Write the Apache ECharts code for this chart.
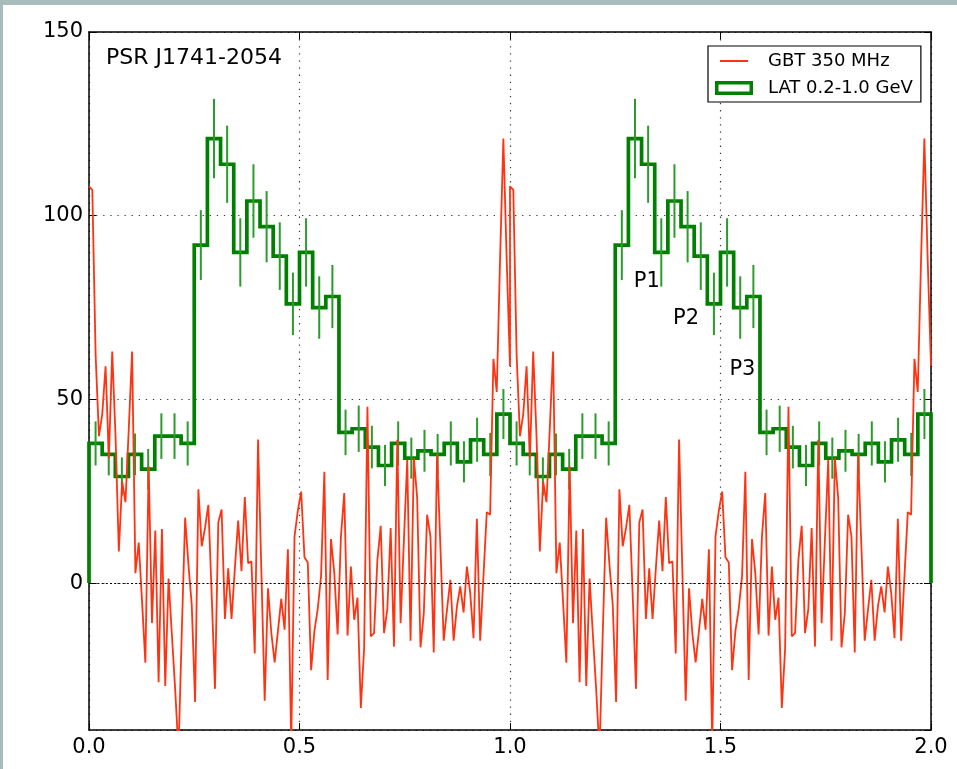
<!DOCTYPE html>
<html>
<head>
<meta charset="utf-8">
<script src="https://cdn.jsdelivr.net/npm/echarts@6/dist/echarts.min.js"></script>
<style>
html,body{margin:0;padding:0;background:#a9bcbc;overflow:hidden;}
#panel{position:absolute;left:3px;top:5px;right:0;bottom:0;background:#ffffff;}
#chart{position:absolute;left:0;top:0;width:957px;height:769px;}
</style>
</head>
<body>
<div id="panel"></div>
<div id="chart"></div>
<script>
// GBT 350 MHz radio profile, 128 samples over one rotation (phase i/127)
const gbtProfile = [
  108, 107, 62, 40, 46, 59, 34, 63, 40, 8.6,
  27.6, 22, 42, 63, 2.7, 11, -5, -21.7, 31.7, -10.9,
  14.3, -27, 14.7, -28, 1.2, -14, -29, -46, -13, 17.8,
  5, -6, -32.4, 25.5, 10, 15, 21.3, -3, -28.8, 16.5,
  20, -9.8, 4, -9.8, 4, 17, 3.2, 23.4, 5.4, 5.9,
  -19.2, 39.1, 3, -32, -1.4, -13.6, -21.6, -13, -4.3, -12.7,
  9.2, -44, 12.7, 19.7, 24.9, 7, 5.6, -23.7, -13, -7,
  1.8, 30.3, -26.4, 12, 2.7, -14, 12.7, 24.5, -14.3, 4.5,
  -10, -4, -34, -17.7, 48, -14.5, -13.6, 6.3, 15.6, -13.6,
  -7, 15, -17.3, 39, -10.9, 11.8, 33.5, -15.7, 34, 23.1,
  -17.5, -8.2, 18.6, 12.7, -18.9, 35, 10, -15.7, -7.2, 0.9,
  -15.7, -6.3, -0.9, -8, 4.5, -2.7, -15, 17.5, -15.7, 2,
  19.3, 18.6, 61, 52, 88, 121, 88, 59
];
// LAT 0.2-1.0 GeV histogram, 32 phase bins per rotation
const latCounts = [38, 35, 29, 35, 31, 40, 40, 38, 92, 121, 114, 90, 104, 97, 89, 76,
                   90, 75, 78, 41, 42, 37, 32, 38, 34, 36, 35, 38, 33, 39, 35, 46];
const latErrors = [6, 5.7, 5.2, 5.7, 5.5, 6.2, 6.2, 6, 9.5, 10.8, 10.5, 9.3, 10, 9.7, 9.2, 8.5,
                   9.3, 8.5, 8.6, 6.2, 6.3, 5.8, 5.6, 6, 5.6, 5.7, 5.6, 6, 5.6, 6, 5.9, 6.8];
const rotations = 2;
const xTickValues = [0, 0.5, 1.0, 1.5, 2.0];
const yTickValues = [0, 50, 100, 150];
const peakNames = ['P1', 'P2', 'P3'];
const peakPhase = [1.325, 1.418, 1.552];
const peakLevel = [82, 72, 58.2];
const seriesNames = ['GBT 350 MHz', 'LAT 0.2-1.0 GeV'];
const chartTitle = 'PSR J1741-2054';

const FONT = 'DejaVu Sans';
const RED = '#ff3311';
const GREEN = '#008000';
const ERR_GREEN = '#2b9b2b';

// build series data
const nRadio = gbtProfile.length;
const radioData = [];
for (let p = 0; p < rotations; p++) {
  for (let i = 0; i < nRadio; i++) {
    radioData.push([p + i / (nRadio - 1), gbtProfile[i]]);
  }
}
const nBins = latCounts.length;
const histData = [[0, 0]];
const errData = [];
for (let p = 0; p < rotations; p++) {
  for (let k = 0; k < nBins; k++) {
    histData.push([p + k / nBins, latCounts[k]]);
    histData.push([p + (k + 1) / nBins, latCounts[k]]);
    errData.push([p + (k + 0.5) / nBins, latCounts[k] - latErrors[k], latCounts[k] + latErrors[k]]);
  }
}
histData.push([rotations, 0]);

const gridSplit = { show: true, lineStyle: { color: '#3a3a3a', type: [1.3, 5.8], width: 1.2 } };
const axisLineStyle = { show: true, onZero: false, lineStyle: { color: '#000', width: 1.5 } };
const tickStyle = { show: true, inside: true, length: 7, lineStyle: { color: '#000', width: 1 } };

const redIcon = 'path://M0,0L0,0.01Z M48,14L48,13.99Z M5,6H33V8H5Z';
const greenIcon = 'path://M0,0L0,0.01Z M48,14L48,13.99Z M0,0H38V14H0Z M3.5,3.5V10.5H34.5V3.5Z';

const chart = echarts.init(document.getElementById('chart'), null, { renderer: 'canvas' });
chart.setOption({
  animation: false,
  backgroundColor: 'transparent',
  textStyle: { fontFamily: FONT },
  title: {
    text: chartTitle, left: 106, top: 47, padding: 0,
    textStyle: { fontSize: 22, fontWeight: 'normal', fontFamily: FONT, color: '#000' }
  },
  legend: {
    left: 708, top: 46, orient: 'vertical',
    padding: [6, 8, 5, 7], itemGap: 9,
    itemWidth: 48, itemHeight: 14,
    backgroundColor: '#fff', borderColor: '#000', borderWidth: 1.2, borderRadius: 0,
    selectedMode: false,
    textStyle: { fontSize: 18, color: '#000', fontFamily: FONT },
    data: [
      { name: seriesNames[0], icon: redIcon, itemStyle: { color: RED, borderWidth: 0, borderColor: 'transparent' } },
      { name: seriesNames[1], icon: greenIcon, itemStyle: { color: GREEN, borderWidth: 0, borderColor: 'transparent' } }
    ]
  },
  grid: { left: 89, right: 26, top: 32, bottom: 39, containLabel: false },
  xAxis: [
    {
      type: 'value', position: 'bottom', min: 0, max: 2, interval: 0.5,
      axisLine: axisLineStyle, axisTick: tickStyle, splitLine: gridSplit,
      axisLabel: { color: '#000', fontSize: 21, fontFamily: FONT, margin: 7,
                   formatter: v => (xTickValues.indexOf(v) >= 0 ? v.toFixed(1) : '') }
    },
    {
      type: 'value', position: 'top', min: 0, max: 2, interval: 0.5,
      axisLine: axisLineStyle, axisTick: tickStyle, splitLine: { show: false },
      axisLabel: { show: false }
    }
  ],
  yAxis: [
    {
      type: 'value', position: 'left', min: -40, max: 150, splitNumber: 4,
      axisLine: axisLineStyle, axisTick: tickStyle, splitLine: gridSplit,
      axisLabel: { color: '#000', fontSize: 21, fontFamily: FONT, margin: 6, showMinLabel: false,
                   formatter: v => (yTickValues.indexOf(v) >= 0 ? String(v) : '') }
    },
    {
      type: 'value', position: 'right', min: -40, max: 150, splitNumber: 4,
      axisLine: axisLineStyle, axisTick: tickStyle, splitLine: { show: false },
      axisLabel: { show: false }
    }
  ],
  series: [
    {
      name: seriesNames[1], type: 'line', data: histData,
      xAxisIndex: 0, yAxisIndex: 0,
      showSymbol: false, symbol: 'none', z: 2,
      lineStyle: { color: GREEN, width: 3.7, join: 'miter' },
      itemStyle: { color: GREEN }
    },
    {
      name: seriesNames[1], type: 'custom', data: errData,
      xAxisIndex: 0, yAxisIndex: 0, z: 3,
      encode: { x: 0, y: [1, 2] },
      renderItem: function (params, api) {
        const x = api.value(0);
        const lo = api.coord([x, api.value(1)]);
        const hi = api.coord([x, api.value(2)]);
        return {
          type: 'line',
          shape: { x1: lo[0], y1: lo[1], x2: hi[0], y2: hi[1] },
          style: { stroke: ERR_GREEN, lineWidth: 2 }
        };
      }
    },
    {
      name: seriesNames[0], type: 'line', data: radioData,
      xAxisIndex: 0, yAxisIndex: 0,
      showSymbol: false, symbol: 'none', z: 4,
      lineStyle: { color: RED, width: 1.8 },
      itemStyle: { color: RED },
      markLine: {
        silent: true, symbol: 'none', label: { show: false },
        lineStyle: { color: '#000', type: [2, 2.2], width: 1 },
        data: [{ yAxis: 0 }]
      }
    },
    {
      name: 'peaks', type: 'scatter', z: 5, silent: true,
      xAxisIndex: 0, yAxisIndex: 0,
      symbolSize: 1, itemStyle: { color: 'rgba(0,0,0,0)', opacity: 1 },
      data: peakNames.map((n, i) => ({ name: n, value: [peakPhase[i], peakLevel[i]] })),
      label: { show: true, position: 'inside', formatter: '{b}', fontSize: 21,
               color: '#000', opacity: 1, textBorderWidth: 0, textBorderColor: 'transparent',
               fontFamily: FONT }
    }
  ]
});
</script>
</body>
</html>
